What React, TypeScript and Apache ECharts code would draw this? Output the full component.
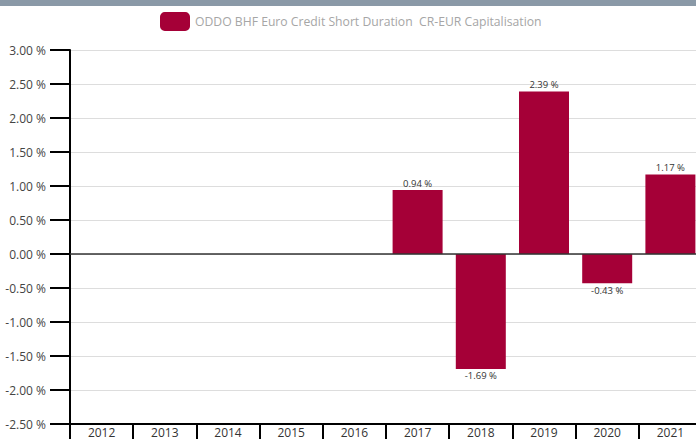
import React, { useEffect, useRef } from "react";
import * as echarts from "echarts";

const years = ["2012", "2013", "2014", "2015", "2016", "2017", "2018", "2019", "2020", "2021"];
const returns: (number | null)[] = [null, null, null, null, null, 0.94, -1.69, 2.39, -0.43, 1.17];
const seriesName = "ODDO BHF Euro Credit Short Duration  CR-EUR Capitalisation";
const yMin = -2.5;
const yMax = 3;
const yStep = 0.5;

const FONT = "'Open Sans', 'Noto Sans', sans-serif";
const BAR_COLOR = "#a50037";

export default function App() {
  const ref = useRef<HTMLDivElement>(null);
  useEffect(() => {
    if (!ref.current) return;
    const chart = echarts.init(ref.current, undefined, { renderer: "svg" });
    const data = returns.map((v) =>
      v === null
        ? { value: null }
        : {
            value: v,
            label: { position: v < 0 ? "bottom" : "top" },
          }
    );
    chart.setOption({
      animation: false,
      textStyle: { fontFamily: FONT },
      graphic: [
        {
          type: "rect",
          left: 0,
          top: 0,
          shape: { width: 704, height: 6 },
          style: { fill: "#8a99a7" },
          silent: true,
        },
      ],
      legend: {
        top: 7,
        left: 155,
        padding: 5,
        itemWidth: 30,
        itemHeight: 19,
        itemGap: 10,
        icon: "roundRect",
        textStyle: { color: "#a6a6a6", fontSize: 12.2, fontFamily: FONT },
        data: [seriesName],
      },
      grid: { left: 70, right: 2, top: 50, bottom: 15, containLabel: false },
      xAxis: {
        type: "category",
        data: years,
        boundaryGap: true,
        axisLine: { onZero: false, lineStyle: { color: "#000", width: 2 } },
        axisTick: { show: true, interval: 0, length: 16, lineStyle: { color: "#000", width: 2 } },
        axisLabel: { color: "#333", fontSize: 12, margin: 2, fontFamily: FONT, interval: 0 },
        splitLine: { show: false },
      },
      yAxis: {
        type: "value",
        min: yMin,
        max: yMax,
        interval: yStep,
        axisLine: { show: true, lineStyle: { color: "#000", width: 2 } },
        axisTick: { show: true, length: 20, lineStyle: { color: "#000", width: 2 } },
        axisLabel: {
          color: "#444",
          fontSize: 12,
          margin: 24,
          fontFamily: FONT,
          formatter: (v: number) => v.toFixed(2) + " %",
        },
        splitLine: { show: true, lineStyle: { color: "#dddddd", width: 1 } },
      },
      series: [
        {
          name: seriesName,
          type: "bar",
          data,
          barWidth: 50,
          itemStyle: { color: BAR_COLOR },
          label: {
            show: true,
            distance: 2,
            color: "#333",
            fontSize: 9.5,
            fontFamily: FONT,
            formatter: (p: any) => (p.value === null || p.value === undefined ? "" : p.value.toFixed(2) + " %"),
          },
          markLine: {
            silent: true,
            symbol: ["none", "none"],
            label: { show: false },
            lineStyle: { color: "#333", width: 1.5, type: "solid" },
            emphasis: { disabled: true },
            data: [{ yAxis: 0 }],
          },
        },
      ],
    });
    return () => chart.dispose();
  }, []);
  return (
    <div style={{ position: "fixed", left: 0, top: 0, width: 696, height: 439, overflow: "hidden", background: "#fff" }}>
      <div ref={ref} style={{ width: 704, height: 439 }} />
    </div>
  );
}
